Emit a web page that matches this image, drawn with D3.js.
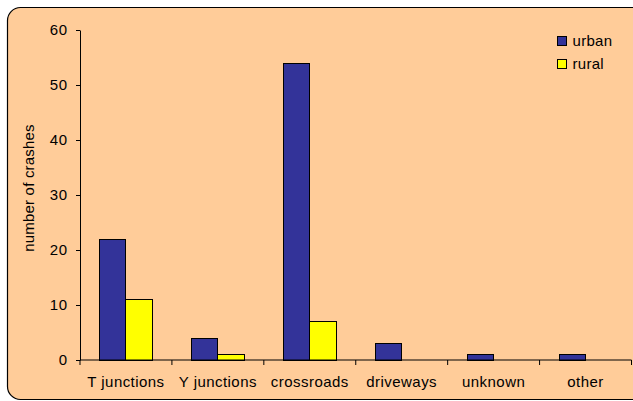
<!DOCTYPE html>
<html>
<head>
<meta charset="utf-8">
<script src="https://cdn.jsdelivr.net/npm/d3@7"></script>
<style>
  html, body { margin: 0; padding: 0; background: #ffffff; }
  svg { display: block; font-family: "Liberation Sans", Arial, sans-serif; }
</style>
</head>
<body>
<svg id="chart" width="633" height="401"></svg>
<script>
// Crash counts by intersection type
const categories = ["T junctions", "Y junctions", "crossroads", "driveways", "unknown", "other"];
const seriesNames = ["urban", "rural"];
const urban = [22, 4, 54, 3, 1, 1];
const rural = [11, 1, 7, 0, 0, 0];
const yTicks = [0, 10, 20, 30, 40, 50, 60];

const colors = { urban: "#333399", rural: "#FFFF00" };

const svg = d3.select("#chart");
const W = 633, H = 401;
const margin = { left: 80, right: 1.5, top: 30, bottom: 41 };
const FONT = 15;

// Rounded chart-area frame
svg.append("rect")
  .attr("x", 7.5).attr("y", 7.5)
  .attr("width", W + 20).attr("height", 392)
  .attr("rx", 13).attr("ry", 13)
  .attr("fill", "#FFCC99")
  .attr("stroke", "#000").attr("stroke-width", 1.2);

const x = d3.scaleBand()
  .domain(categories)
  .range([margin.left, W - margin.right]);

const y = d3.scaleLinear()
  .domain([0, 60])
  .range([H - margin.bottom, margin.top]);

// Two bars per category, gap of 150% of bar width
const x1 = d3.scaleBand()
  .domain(seriesNames)
  .range([0, x.bandwidth()])
  .paddingOuter(0.75)
  .paddingInner(0);

const rows = categories.map((c, i) => ({ cat: c, urban: urban[i], rural: rural[i] }));

const groups = svg.append("g").selectAll("g")
  .data(rows)
  .join("g")
  .attr("transform", d => `translate(${x(d.cat)},0)`);

groups.selectAll("rect")
  .data(d => seriesNames.map(k => ({ key: k, value: d[k] })).filter(e => e.value > 0))
  .join("rect")
  .attr("x", d => x1(d.key))
  .attr("y", d => y(d.value))
  .attr("width", x1.bandwidth())
  .attr("height", d => y(0) - y(d.value))
  .attr("fill", d => colors[d.key])
  .attr("stroke", "#000")
  .attr("stroke-width", 1)
  .attr("shape-rendering", "crispEdges");

// Y axis
const yAxis = svg.append("g")
  .attr("transform", `translate(${margin.left},0)`)
  .call(d3.axisLeft(y).tickValues(yTicks).tickSize(4).tickSizeOuter(0).tickPadding(8));
yAxis.select(".domain").attr("stroke", "#000");
yAxis.selectAll(".tick line").attr("stroke", "#000");
yAxis.selectAll("text")
  .attr("font-size", FONT)
  .attr("font-family", "Liberation Sans, Arial, sans-serif")
  .attr("letter-spacing", 0.8)
  .attr("fill", "#000");

// X axis with ticks between categories
const xAxisG = svg.append("g")
  .attr("transform", `translate(0,${y(0)})`);
xAxisG.append("line")
  .attr("x1", margin.left).attr("x2", W - margin.right)
  .attr("stroke", "#000");
const boundaries = categories.map(c => x(c)).concat([x(categories[categories.length - 1]) + x.bandwidth()]);
xAxisG.selectAll("line.tick")
  .data(boundaries)
  .join("line")
  .attr("class", "tick")
  .attr("x1", d => d).attr("x2", d => d)
  .attr("y1", 0).attr("y2", 5)
  .attr("stroke", "#000");
xAxisG.selectAll("text")
  .data(categories)
  .join("text")
  .attr("x", d => x(d) + x.bandwidth() / 2)
  .attr("y", 27)
  .attr("text-anchor", "middle")
  .attr("font-size", FONT)
  .attr("letter-spacing", 0.45)
  .attr("fill", "#000")
  .text(d => d);

// Y axis title
svg.append("text")
  .attr("transform", `translate(33.5,188) rotate(-90)`)
  .attr("text-anchor", "middle")
  .attr("font-size", FONT)
  .attr("letter-spacing", 0.2)
  .attr("fill", "#000")
  .text("number of crashes");

// Legend
const legend = svg.append("g").attr("transform", "translate(557,36)");
seriesNames.forEach((k, i) => {
  const g = legend.append("g").attr("transform", `translate(0,${i * 23})`);
  g.append("rect")
    .attr("x", 0.5).attr("y", 0.5)
    .attr("width", 9).attr("height", 9)
    .attr("fill", colors[k])
    .attr("stroke", "#000");
  g.append("text")
    .attr("x", 15.5).attr("y", 10)
    .attr("font-size", FONT)
    .attr("letter-spacing", 0.3)
    .attr("fill", "#000")
    .text(k);
});
</script>
</body>
</html>
